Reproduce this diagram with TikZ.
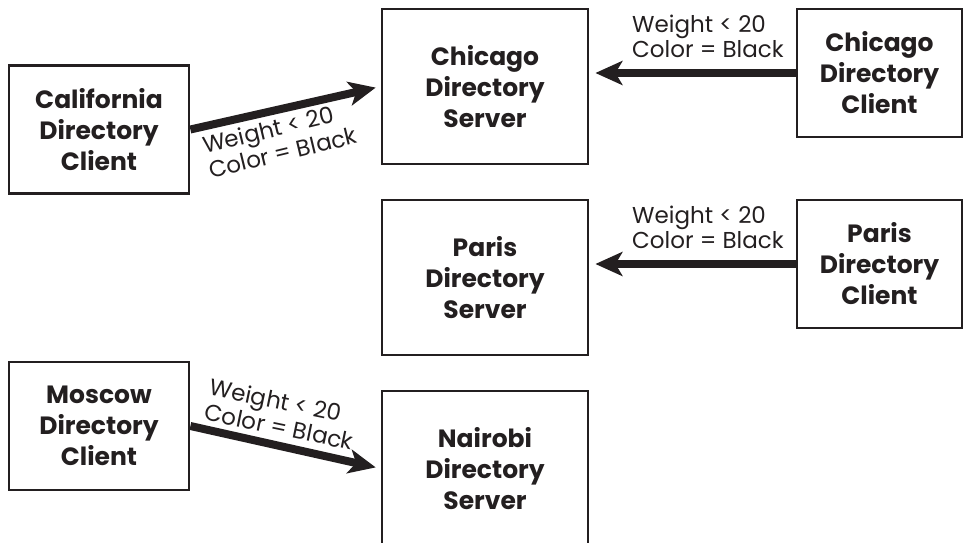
\documentclass[tikz,border=0pt]{standalone}
\usepackage{fontspec}
\setmainfont{Poppins}
\usetikzlibrary{arrows.meta}
\definecolor{ink}{HTML}{231F20}
\begin{document}
\begin{tikzpicture}[x=1pt,y=-1pt,
  boxbase/.style={draw=ink,line width=2.8pt,align=center,inner sep=0pt,text=ink,
    font=\bfseries\fontsize{25}{31}\selectfont},
  srvbox/.style={boxbase,minimum width=206pt,minimum height=155pt},
  clibox/.style={boxbase,minimum width=180pt,minimum height=128pt},
  rclibox/.style={boxbase,minimum width=165pt,minimum height=128pt},
  flow/.style={draw=ink,line width=8pt,-{Stealth[length=27pt,width=24pt,inset=7pt]}},
  cond/.style={align=left,inner sep=0pt,text=ink,font=\fontsize{23}{25.5}\selectfont}]
\useasboundingbox (0,0) rectangle (964,543);
\clip (0,0) rectangle (964,543);

% servers
\node[srvbox] (chs) at (485,86.5)  {Chicago\\Directory\\Server};
\node[srvbox] (pas) at (485,277.5) {Paris\\Directory\\Server};
\node[srvbox] (nai) at (485,468.5) {Nairobi\\Directory\\Server};

% clients
\node[clibox]  (cal) at (99,129.5)   {California\\Directory\\Client};
\node[clibox]  (mos) at (99,426)     {Moscow\\Directory\\Client};
\node[rclibox] (chc) at (879.5,73)   {Chicago\\Directory\\Client};
\node[rclibox] (pac) at (879.5,264)  {Paris\\Directory\\Client};

% requests
\draw[flow,shorten >=5pt] (cal.east) -- (chs.west);
\draw[flow,shorten >=6pt] (chc.west) -- (chs.east |- chc.west);
\draw[flow,shorten >=6pt] (pac.west) -- (pas.east |- pac.west);
\draw[flow,shorten >=5pt] (mos.east) -- (nai.west);

% filter conditions
\node[cond,anchor=south west,rotate=13.6]  (lcal) at (211,179) {Weight < 20\\Color = Black};
\node[cond,anchor=south west]              (lchc) at (632,58)  {Weight < 20\\Color = Black};
\node[cond,anchor=south west]              (lpac) at (632,249) {Weight < 20\\Color = Black};
\node[cond,anchor=south west,rotate=-11.7] (lmos) at (203,420) {Weight < 20\\Color = Black};
\end{tikzpicture}
\end{document}
